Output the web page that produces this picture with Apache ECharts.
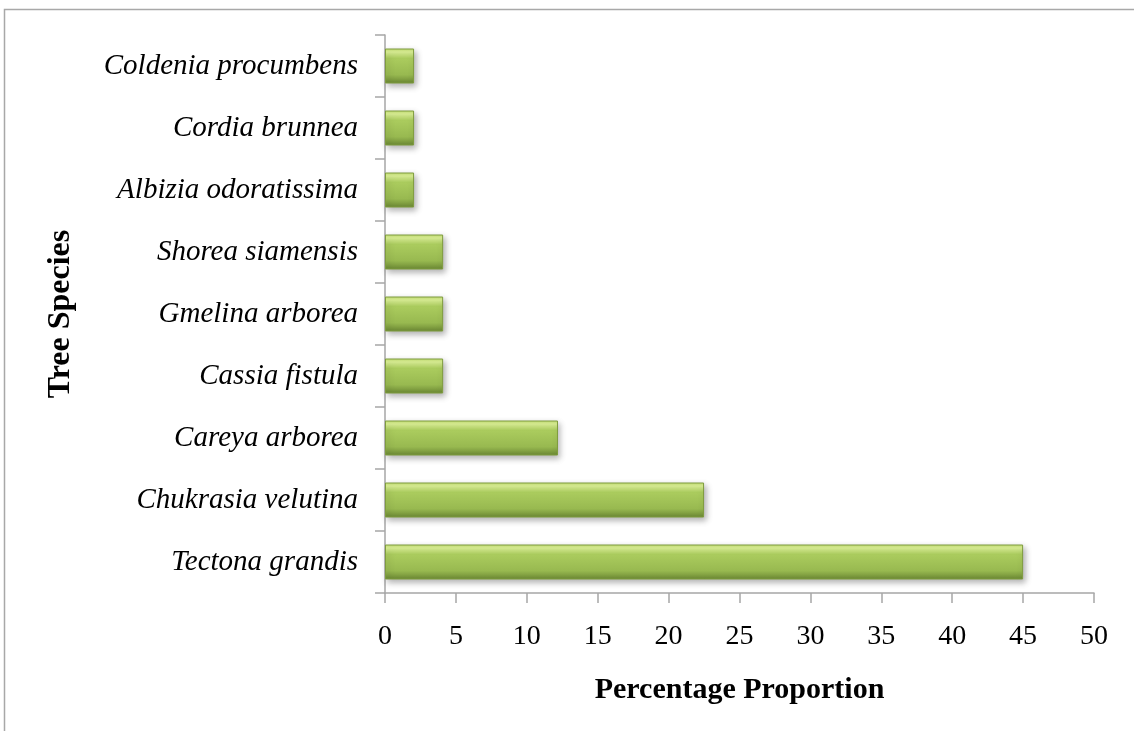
<!DOCTYPE html>
<html>
<head>
<meta charset="utf-8">
<script src="https://cdn.jsdelivr.net/npm/echarts@6/dist/echarts.min.js"></script>
<style>
  html, body { margin: 0; padding: 0; background: #fff; }
  #chart { width: 1134px; height: 731px; }
</style>
</head>
<body>
<div id="chart"></div>
<script>
// species, bottom to top as drawn
var species = ['Tectona grandis', 'Chukrasia velutina', 'Careya arborea', 'Cassia fistula',
    'Gmelina arborea', 'Shorea siamensis', 'Albizia odoratissima', 'Cordia brunnea', 'Coldenia procumbens'];
var proportion = [45, 22.5, 12.2, 4.1, 4.1, 4.1, 2.05, 2.05, 2.05];
var xTicks = [0, 5, 10, 15, 20, 25, 30, 35, 40, 45, 50];

var myChart = echarts.init(document.getElementById('chart'));

var serif = '"Liberation Serif", "DejaVu Serif", serif';
var axisGray = '#a6a6a6';

var barStyle = {
    color: {
        type: 'linear', x: 0, y: 0, x2: 0, y2: 1,
        colorStops: [
            {offset: 0, color: '#c4df72'},
            {offset: 0.1, color: '#dcf296'},
            {offset: 0.28, color: '#abcc5e'},
            {offset: 0.75, color: '#98b950'},
            {offset: 1, color: '#6a8733'}
        ]
    },
    borderColor: '#7f9c3e',
    borderWidth: 1,
    shadowColor: 'rgba(0,0,0,0.3)',
    shadowBlur: 6,
    shadowOffsetX: 2,
    shadowOffsetY: 3
};

var option = {
    animation: false,
    backgroundColor: '#fff',
    graphic: [
        {   // outer frame of the figure
            type: 'rect',
            shape: {x: 4.5, y: 9.5, width: 1300, height: 900},
            style: {fill: 'none', stroke: '#a8a8a8', lineWidth: 1.5}
        }
    ],
    grid: {
        left: 385,
        right: 40,
        top: 35,
        bottom: 138
    },
    xAxis: {
        type: 'value',
        min: 0,
        max: 50,
        interval: 5,
        name: 'Percentage Proportion',
        nameLocation: 'middle',
        nameGap: 82,
        nameTextStyle: {
            fontFamily: serif,
            fontWeight: 'bold',
            fontSize: 30,
            color: '#000'
        },
        splitLine: {show: false},
        axisLine: {show: true, lineStyle: {color: axisGray, width: 1.5}},
        axisTick: {show: true, length: 10, lineStyle: {color: axisGray, width: 1.5}},
        axisLabel: {
            margin: 30,
            fontFamily: serif,
            fontSize: 28,
            color: '#000',
            formatter: function (v) {
                return xTicks.indexOf(v) >= 0 ? String(v) : '';
            }
        }
    },
    yAxis: {
        type: 'category',
        data: species,
        name: 'Tree Species',
        nameLocation: 'middle',
        nameGap: 308,
        nameRotate: 90,
        nameTextStyle: {
            fontFamily: serif,
            fontWeight: 'bold',
            fontSize: 32,
            color: '#000'
        },
        axisLine: {show: true, lineStyle: {color: axisGray, width: 1.5}},
        axisTick: {show: true, length: 10, lineStyle: {color: axisGray, width: 1.5}},
        axisLabel: {
            margin: 27,
            fontFamily: serif,
            fontStyle: 'italic',
            fontSize: 29,
            color: '#000'
        },
        splitLine: {show: false}
    },
    series: [
        {
            name: 'Proportion',
            type: 'bar',
            barWidth: 35,
            itemStyle: barStyle,
            data: proportion
        }
    ]
};

myChart.setOption(option);
</script>
</body>
</html>
